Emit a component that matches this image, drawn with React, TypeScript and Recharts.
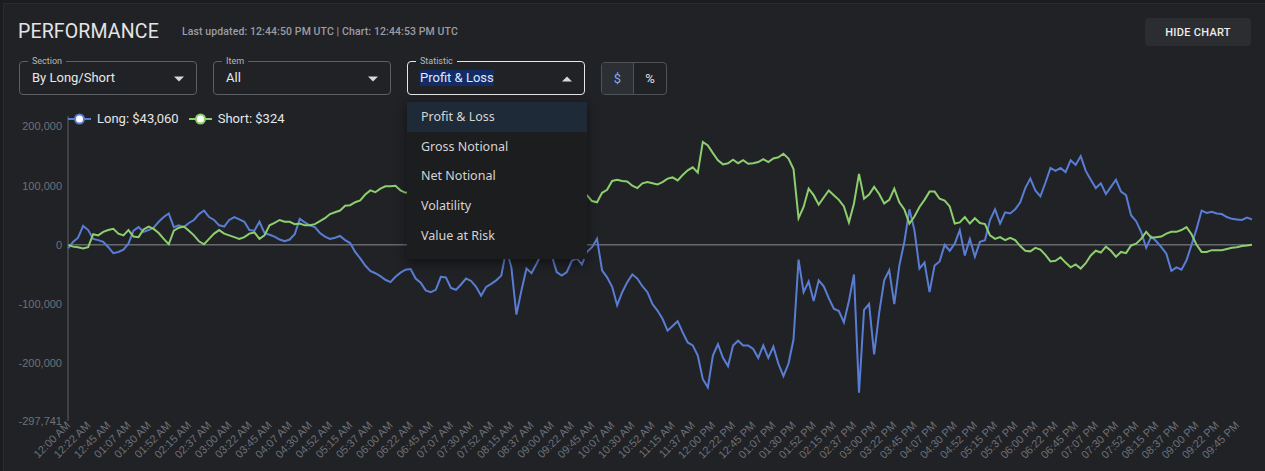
import React from "react";
import { LineChart, Line, XAxis, YAxis, ReferenceLine } from "recharts";

// Cumulative P&L per slot (one slot = 5.625 minutes, starting at midnight UTC)
const longPnl: number[] = [
  -6000, 5000, 12000, 32000, 25000, 10000, 8000, 5000, -4000, -14000,
  -12000, -8000, 2000, 24000, 30000, 22000, 25000, 29000, 39000, 47000,
  53000, 30000, 33000, 30000, 37000, 42000, 52000, 58000, 47000, 42000,
  33000, 31000, 42000, 47000, 43000, 39000, 25000, 24000, 39000, 20000,
  17000, 14000, 9000, 6000, 9000, 18000, 44000, 38000, 33000, 30000,
  20000, 14000, 10000, 12000, 15000, 8000, 3000, -12000, -23000, -35000,
  -44000, -48000, -53000, -59000, -63000, -54000, -47000, -42000, -41000, -57000,
  -64000, -77000, -80000, -76000, -54000, -55000, -73000, -76000, -67000, -57000,
  -61000, -71000, -86000, -71000, -66000, -60000, -52000, -8000, -38000, -118000,
  -77000, -40000, -48000, -32000, -15000, -10000, -18000, -46000, -52000, -46000,
  -27000, -23000, -33000, -12000, -4000, 10000, -43000, -55000, -71000, -102000,
  -80000, -63000, -50000, -57000, -70000, -80000, -100000, -111000, -125000, -145000,
  -137000, -129000, -148000, -165000, -170000, -187000, -227000, -241000, -187000, -168000,
  -191000, -205000, -170000, -162000, -170000, -170000, -176000, -191000, -170000, -191000,
  -172000, -201000, -222000, -201000, -160000, -25000, -80000, -62000, -95000, -60000,
  -70000, -90000, -108000, -112000, -131000, -95000, -50000, -250000, -110000, -100000,
  -185000, -115000, -60000, -43000, -100000, -35000, 5000, 60000, 25000, -40000,
  -30000, -80000, -35000, -28000, 0, -10000, 2000, 25000, -18000, 10000,
  -20000, 5000, 8000, 42000, 60000, 36000, 55000, 53000, 60000, 72000,
  96000, 112000, 92000, 82000, 105000, 130000, 125000, 130000, 123000, 143000,
  135000, 150000, 125000, 110000, 96000, 104000, 86000, 98000, 110000, 90000,
  84000, 50000, 40000, 22000, -5000, 14000, 6000, -4000, -15000, -44000,
  -38000, -42000, -26000, 0, 27000, 58000, 54000, 56000, 53000, 52000,
  47000, 44000, 43000, 42000, 46000, 43060,
];

const shortPnl: number[] = [
  0, -3000, -4000, -6000, -4000, 18000, 16000, 22000, 25000, 27000,
  19000, 16000, 25000, 14000, 13000, 26000, 31000, 27000, 20000, 10000,
  1000, 24000, 29000, 31000, 24000, 16000, 6000, 1000, 10000, 19000,
  25000, 19000, 16000, 13000, 10000, 13000, 19000, 21000, 10000, 16000,
  33000, 37000, 42000, 39000, 39000, 35000, 36000, 33000, 33000, 35000,
  40000, 45000, 52000, 55000, 58000, 66000, 67000, 72000, 75000, 85000,
  92000, 89000, 95000, 99000, 99000, 100000, 92000, 88000, 90000, 86000,
  92000, 95000, 90000, 85000, 88000, 93000, 97000, 94000, 88000, 84000,
  86000, 90000, 95000, 100000, 97000, 92000, 88000, 85000, 80000, 84000,
  88000, 92000, 95000, 90000, 86000, 82000, 85000, 88000, 84000, 80000,
  83000, 86000, 84000, 84000, 74000, 72000, 88000, 93000, 108000, 110000,
  108000, 107000, 100000, 96000, 104000, 106000, 104000, 102000, 106000, 112000,
  114000, 109000, 118000, 126000, 131000, 122000, 174000, 168000, 155000, 143000,
  136000, 138000, 144000, 138000, 143000, 137000, 138000, 140000, 145000, 140000,
  146000, 148000, 154000, 146000, 128000, 45000, 64000, 95000, 84000, 68000,
  80000, 92000, 84000, 76000, 65000, 38000, 70000, 120000, 78000, 85000,
  98000, 86000, 70000, 76000, 95000, 72000, 60000, 36000, 48000, 64000,
  76000, 90000, 90000, 78000, 75000, 65000, 36000, 38000, 47000, 36000,
  45000, 37000, 35000, 16000, 10000, 13000, 8000, 12000, 8000, -2000,
  -10000, -11000, -5000, -8000, -17000, -28000, -27000, -21000, -30000, -38000,
  -33000, -40000, -31000, -18000, -10000, -13000, -3000, -10000, -20000, -12000,
  -14000, -1000, 2000, 10000, 22000, 12000, 13000, 14000, 19000, 22000,
  22000, 25000, 30000, 18000, 0, -12000, -12000, -9000, -9000, -9000,
  -7000, -5000, -4000, -2000, -1000, 324,
];

// Axis labels, one every 22.5 minutes (every 4th slot)
const timeTicks: string[] = [
  "12:00 AM", "12:22 AM", "12:45 AM", "01:07 AM", "01:30 AM", "01:52 AM", "02:15 AM", "02:37 AM",
  "03:00 AM", "03:22 AM", "03:45 AM", "04:07 AM", "04:30 AM", "04:52 AM", "05:15 AM", "05:37 AM",
  "06:00 AM", "06:22 AM", "06:45 AM", "07:07 AM", "07:30 AM", "07:52 AM", "08:15 AM", "08:37 AM",
  "09:00 AM", "09:22 AM", "09:45 AM", "10:07 AM", "10:30 AM", "10:52 AM", "11:15 AM", "11:37 AM",
  "12:00 PM", "12:22 PM", "12:45 PM", "01:07 PM", "01:30 PM", "01:52 PM", "02:15 PM", "02:37 PM",
  "03:00 PM", "03:22 PM", "03:45 PM", "04:07 PM", "04:30 PM", "04:52 PM", "05:15 PM", "05:37 PM",
  "06:00 PM", "06:22 PM", "06:45 PM", "07:07 PM", "07:30 PM", "07:52 PM", "08:15 PM", "08:37 PM",
  "09:00 PM", "09:22 PM", "09:45 PM",
];
const SLOTS_PER_TICK = 4;

const yTicks: number[] = [-297741, -200000, -100000, 0, 100000, 200000];
const yDomain: [number, number] = [-297741, 217800];

const statistics: string[] = ["Profit & Loss", "Gross Notional", "Net Notional", "Volatility", "Value at Risk"];

const LONG_COLOR = "#5a7dd4";
const SHORT_COLOR = "#8dcf6e";
const BG = "#212226";
const UI_FONT = "Roboto, 'Liberation Sans', Arial, sans-serif";

const rows = longPnl.map((v, i) => ({ slot: i, long: v, short: shortPnl[i] }));
const xTicks = timeTicks.map((_, k) => k * SLOTS_PER_TICK);

const money = (v: number) => "$" + v.toLocaleString("en-US");

const TimeTick = (props: any) => {
  const { x, y, payload } = props;
  const label = timeTicks[Math.round(payload.value / SLOTS_PER_TICK)] ?? "";
  const tx = x + 3;
  const ty = y + 3;
  return (
    <text
      x={tx}
      y={ty}
      transform={`rotate(-45 ${tx} ${ty})`}
      textAnchor="end"
      fill="#6e7177"
      fontSize={11}
      fontFamily="'Liberation Sans', Arial, sans-serif"
    >
      {label}
    </text>
  );
};

const Caret = ({ up }: { up?: boolean }) => (
  <svg width="10" height="6" viewBox="0 0 10 5" style={{ display: "block" }}>
    <path d={up ? "M0 5 L5 0 L10 5 Z" : "M0 0 L5 5 L10 0 Z"} fill="#d8d8d8" />
  </svg>
);

const SelectBox = (p: {
  left: number;
  label: string;
  value: string;
  open?: boolean;
}) => (
  <div
    style={{
      position: "absolute",
      left: p.left,
      top: 61,
      width: 178,
      height: 34,
      boxSizing: "border-box",
      border: p.open ? "1px solid #e6e6e6" : "1px solid #5c5f64",
      borderRadius: 4,
    }}
  >
    <span
      style={{
        position: "absolute",
        left: 8,
        top: -7,
        padding: "0 4px",
        background: BG,
        fontSize: 9,
        lineHeight: "12px",
        color: "#b8b8b8",
      }}
    >
      {p.label}
    </span>
    <span
      style={{
        position: "absolute",
        left: 12,
        top: 8,
        fontSize: 13,
        lineHeight: "16px",
        color: p.open ? "#dfe8ff" : "#e8e8e8",
        background: p.open ? "#142c66" : "transparent",
      }}
    >
      {p.value}
    </span>
    <span style={{ position: "absolute", right: 12, top: 14 }}>
      <Caret up={p.open} />
    </span>
  </div>
);

const LegendKey = ({ color, text }: { color: string; text: string }) => (
  <div style={{ display: "flex", alignItems: "center", marginRight: 10 }}>
    <svg width="23" height="12" style={{ display: "block" }}>
      <line x1="0" y1="6" x2="23" y2="6" stroke={color} strokeWidth="2" />
      <circle cx="11.5" cy="6" r="4.5" fill="#ffffff" stroke={color} strokeWidth="2" />
    </svg>
    <span style={{ marginLeft: 6, fontSize: 13, color: "#e6e6e6", lineHeight: "16px" }}>{text}</span>
  </div>
);

export default function App() {
  const lastLong = longPnl[longPnl.length - 1];
  const lastShort = shortPnl[shortPnl.length - 1];
  return (
    <div
      style={{
        position: "absolute",
        left: 0,
        top: 0,
        width: 1265,
        height: 471,
        overflow: "hidden",
        background: "#1b1c1f",
        fontFamily: UI_FONT,
      }}
    >
      <div
        style={{
          position: "absolute",
          left: 3,
          top: 3,
          width: 1270,
          height: 480,
          background: BG,
          borderTop: "1px solid #2b2c30",
          borderLeft: "1px solid #2b2c30",
        }}
      />

      {/* Header */}
      <div
        style={{
          position: "absolute",
          left: 18,
          top: 20,
          fontSize: 19.5,
          lineHeight: "24px",
          color: "#e4e4e4",
          letterSpacing: 0.15,
        }}
      >
        PERFORMANCE
      </div>
      <div
        style={{
          position: "absolute",
          left: 182,
          top: 26,
          fontSize: 10.5,
          lineHeight: "12px",
          fontWeight: 500,
          color: "#9a9ea4",
          letterSpacing: 0.1,
        }}
      >
        Last updated: 12:44:50 PM UTC | Chart: 12:44:53 PM UTC
      </div>
      <div
        style={{
          position: "absolute",
          left: 1145,
          top: 18,
          width: 106,
          height: 28,
          borderRadius: 4,
          background: "#2b2d31",
          color: "#ececec",
          fontSize: 11,
          fontWeight: 500,
          letterSpacing: 0.3,
          display: "flex",
          alignItems: "center",
          justifyContent: "center",
        }}
      >
        HIDE CHART
      </div>

      {/* Filters */}
      <SelectBox left={19} label="Section" value="By Long/Short" />
      <SelectBox left={213} label="Item" value="All" />
      <SelectBox left={407} label="Statistic" value="Profit & Loss" open />

      <div
        style={{
          position: "absolute",
          left: 601,
          top: 62,
          width: 66,
          height: 33,
          boxSizing: "border-box",
          border: "1px solid #4f5257",
          borderRadius: 4,
          display: "flex",
          overflow: "hidden",
          fontSize: 13,
        }}
      >
        <div
          style={{
            width: 31,
            background: "#2c2f34",
            color: "#7eaef2",
            display: "flex",
            alignItems: "center",
            justifyContent: "center",
            borderRight: "1px solid #4f5257",
          }}
        >
          $
        </div>
        <div
          style={{
            flex: 1,
            color: "#e0e0e0",
            display: "flex",
            alignItems: "center",
            justifyContent: "center",
          }}
        >
          %
        </div>
      </div>

      {/* Chart */}
      <div style={{ position: "absolute", left: 0, top: 100 }}>
        <LineChart
          width={1265}
          height={371}
          data={rows}
          margin={{ top: 16, right: 13, bottom: 0, left: 8 }}
        >
          <XAxis
            dataKey="slot"
            type="number"
            domain={[0, rows.length - 1]}
            ticks={xTicks}
            interval={0}
            axisLine={false}
            tickLine={false}
            tickSize={0}
            tickMargin={2}
            height={50}
            tick={<TimeTick />}
          />
          <YAxis
            type="number"
            domain={yDomain}
            ticks={yTicks}
            interval={0}
            width={60}
            axisLine={{ stroke: "#5d6065", strokeWidth: 1 }}
            tickLine={false}
            tickSize={0}
            tickMargin={6}
            tick={{ fill: "#6e7177", fontSize: 11, fontFamily: "'Liberation Sans', Arial, sans-serif" }}
            tickFormatter={(v: number) => v.toLocaleString("en-US")}
          />
          <ReferenceLine y={0} stroke="#8c8f94" strokeWidth={1} />
          <Line
            type="linear"
            dataKey="long"
            stroke={LONG_COLOR}
            strokeWidth={2}
            dot={false}
            isAnimationActive={false}
          />
          <Line
            type="linear"
            dataKey="short"
            stroke={SHORT_COLOR}
            strokeWidth={2}
            dot={false}
            isAnimationActive={false}
          />
        </LineChart>
      </div>

      {/* Legend */}
      <div style={{ position: "absolute", left: 68, top: 111, display: "flex", alignItems: "center" }}>
        <LegendKey color={LONG_COLOR} text={`Long: ${money(lastLong)}`} />
        <LegendKey color={SHORT_COLOR} text={`Short: ${money(lastShort)}`} />
      </div>

      {/* Open statistic menu */}
      <div
        style={{
          position: "absolute",
          left: 407,
          top: 101,
          width: 180,
          height: 158,
          background: "#1c1d1f",
          boxShadow: "0 4px 12px rgba(0,0,0,0.5)",
          borderRadius: 2,
          paddingTop: 1,
          boxSizing: "border-box",
          fontFamily: "'Noto Sans', 'Open Sans', sans-serif",
        }}
      >
        {statistics.map((s, k) => (
          <div
            key={s}
            style={{
              height: 29.6,
              display: "flex",
              alignItems: "center",
              paddingLeft: 14,
              fontSize: 12.5,
              color: "#d4d4d4",
              background: k === 0 ? "#1e2a37" : "transparent",
            }}
          >
            {s}
          </div>
        ))}
      </div>
    </div>
  );
}
